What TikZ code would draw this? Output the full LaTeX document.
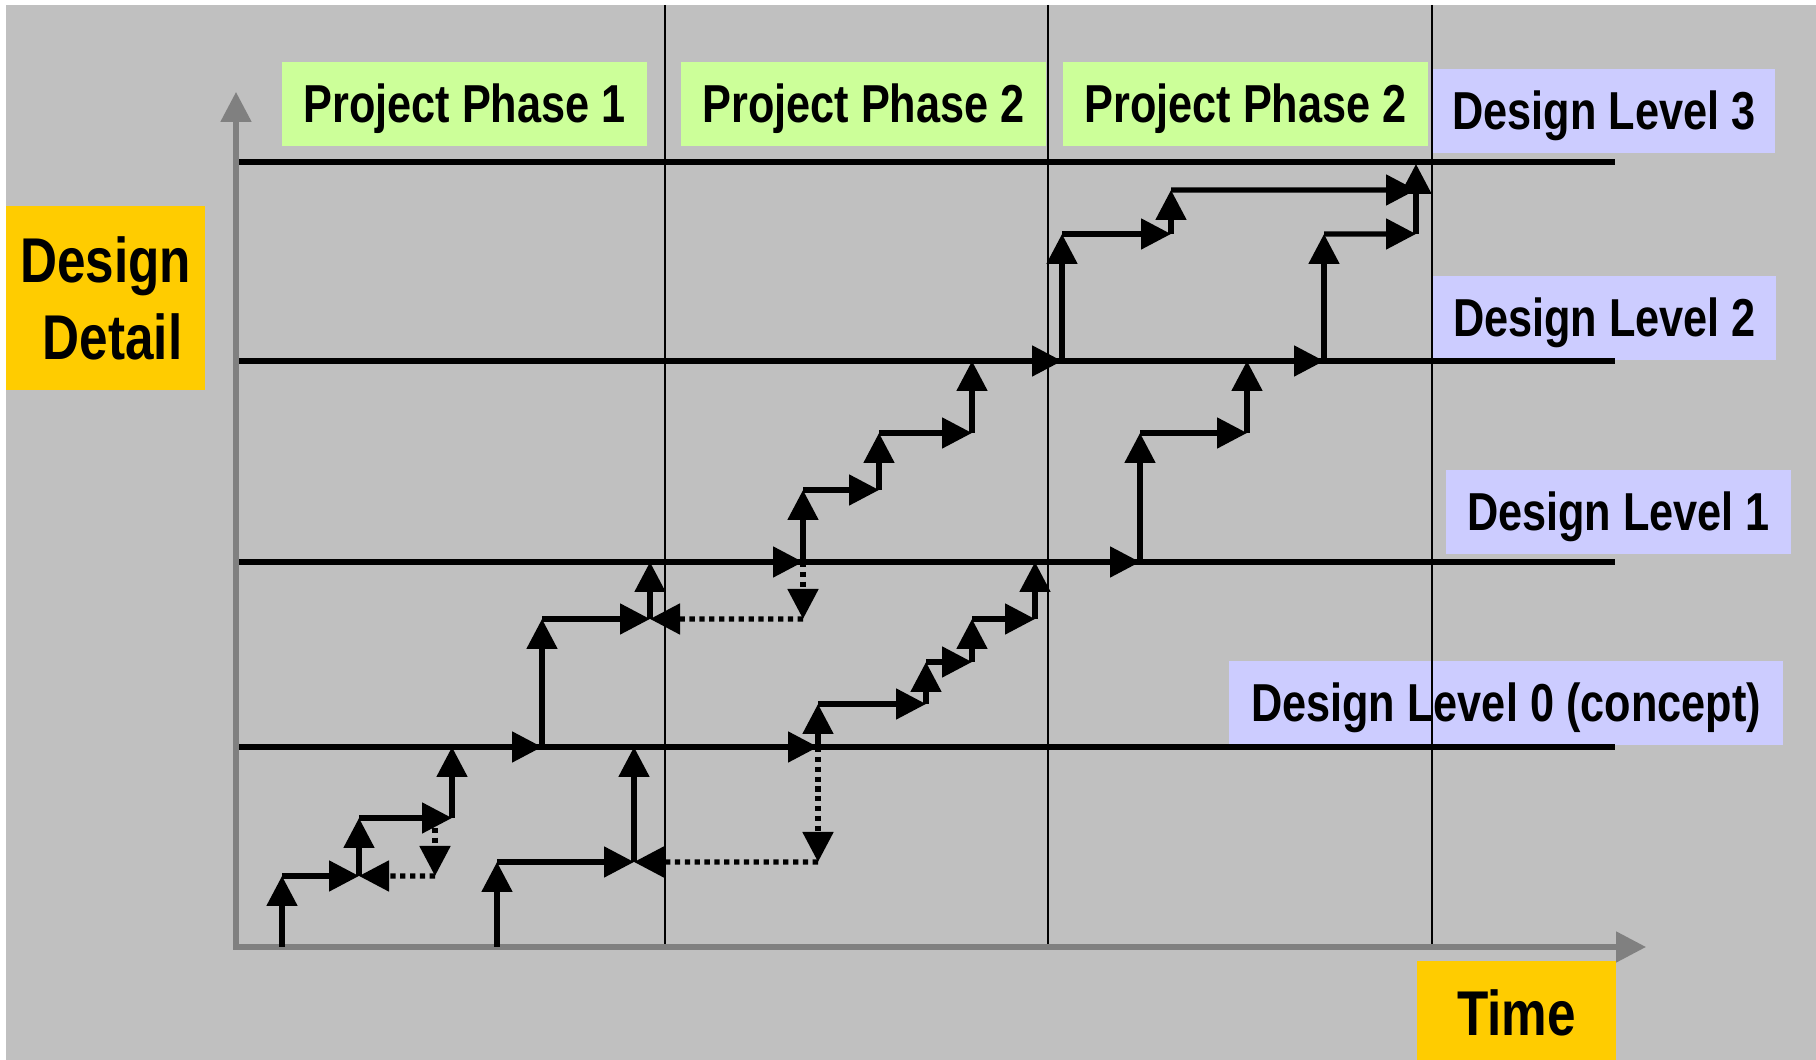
\documentclass[tikz,border=0pt]{standalone}
\usepackage{fontspec}
\setmainfont{Liberation Sans}[FakeStretch=0.81]
\usepackage{tikz}
\usetikzlibrary{arrows.meta,calc,positioning}
\definecolor{bggray}{HTML}{C0C0C0}
\definecolor{phasegreen}{HTML}{CCFF99}
\definecolor{levelblue}{HTML}{CCCCFF}
\definecolor{keyyellow}{HTML}{FFCC00}
\definecolor{axisgray}{HTML}{808080}

\begin{document}
\begin{tikzpicture}[
  progress/.style={line width=1.45pt,-{Triangle[length=3mm,width=3mm]}},
  feedback/.style={progress,dash pattern=on 1.5pt off 1.3pt},
  lvlline/.style={line width=1.45pt},
  phaseline/.style={line width=0.8pt},
  axisline/.style={draw=axisgray,line width=1.45pt,{Triangle[length=3mm,width=3mm]}-{Triangle[length=3mm,width=3mm]}},
  phasebox/.style={fill=phasegreen,minimum width=3.65cm,minimum height=0.84cm,inner sep=0pt,font=\bfseries\fontsize{15.2}{18}\selectfont,text height=0.38cm,text depth=0pt},
  lvlbox/.style={phasebox,fill=levelblue},
  keybox/.style={fill=keyyellow,minimum width=1.99cm,inner sep=0pt,font=\bfseries\fontsize{18}{21.9}\selectfont}
]
\useasboundingbox (0,0) rectangle (18.16,10.6);
\fill[bggray] (0.06,0) rectangle (18.16,10.55);
% labels
\node[phasebox] (ph1) at (4.645,9.56) {Project Phase 1};
\node[phasebox] (ph2) at (8.635,9.56) {Project Phase 2};
\node[phasebox] (ph3) at (12.455,9.56) {Project Phase 2};
\node[lvlbox,minimum width=3.42cm] (lv3) at (16.04,9.49) {Design Level 3};
\node[lvlbox,minimum width=3.43cm] (lv2) at (16.045,7.42) {Design Level 2};
\node[lvlbox,minimum width=3.45cm] (lv1) at (16.185,5.48) {Design Level 1};
\node[lvlbox,minimum width=5.54cm] (lv0) at (15.06,3.57) {Design Level 0 (concept)};
\node[keybox,minimum height=1.84cm,align=center] (detail) at (1.055,7.62) {Design\\\ Detail};
\node[keybox,minimum height=1.04cm,text height=0.455cm,text depth=0pt] (time) at (15.165,0.47) {Time};
% phase borders
\draw[phaseline] (6.65,10.55) -- (6.65,1.13);
\draw[phaseline] (10.48,10.55) -- (10.48,1.13);
\draw[phaseline] (14.32,10.55) -- (14.32,1.13);
% design levels
\draw[lvlline] (2.36,8.98) coordinate(L3) -- ++(13.79,0);
\draw[lvlline] (2.36,6.99) coordinate(L2) -- ++(13.79,0);
\draw[lvlline] (2.36,4.98) coordinate(L1) -- ++(13.79,0);
\draw[lvlline] (2.36,3.13) coordinate(L0) -- ++(13.79,0);
% axes
\draw[axisline] (2.36,9.68) -- (2.36,1.13) coordinate(O) -- (16.46,1.13);
% first run up to level 0
\draw[progress] (2.82,1.13) -- ++(0,0.71) coordinate(a1);
\draw[progress] (a1) -- ++(0.77,0) coordinate(a2);
\draw[progress] (a2) -- ++(0,0.58) coordinate(a3);
\draw[progress] (a3) -- ++(0.93,0) coordinate(a4);
\draw[progress] (a4) -- (a4|-L0) coordinate(a5);
\draw[feedback] (4.35,2.42) -- (4.35,1.84) coordinate(af);
\draw[feedback] (af) -- (a2);
% level 0 to level 1
\draw[progress] (a5) -- (5.42,3.13) coordinate(b0);
\draw[progress] (b0) -- ++(0,1.28) coordinate(b1);
\draw[progress] (b1) -- ++(1.08,0) coordinate(b2);
\draw[progress] (b2) -- (b2|-L1) coordinate(b3);
\draw[feedback] (8.03,4.98) -- (8.03,4.41) coordinate(bf);
\draw[feedback] (bf) -- (b2);
% second run up to level 0
\draw[progress] (4.97,1.13) -- ++(0,0.85) coordinate(c1);
\draw[progress] (c1) -- ++(1.37,0) coordinate(c2);
\draw[progress] (c2) -- (c2|-L0) coordinate(c3);
\draw[feedback] (8.18,3.13) -- (8.18,1.98) coordinate(cf);
\draw[feedback] (cf) -- (c2);
% second run level 0 to level 1
\draw[progress] (c3) -- (8.18,3.13) coordinate(d0);
\draw[progress] (d0) -- ++(0,0.43) coordinate(d1);
\draw[progress] (d1) -- ++(1.08,0) coordinate(d2);
\draw[progress] (d2) -- ++(0,0.42) coordinate(d3);
\draw[progress] (d3) -- ++(0.46,0) coordinate(d4);
\draw[progress] (d4) -- ++(0,0.43) coordinate(d5);
\draw[progress] (d5) -- ++(0.63,0) coordinate(d6);
\draw[progress] (d6) -- (d6|-L1) coordinate(d7);
% first run level 1 to level 3
\draw[progress] (b3) -- (8.03,4.98) coordinate(e0);
\draw[progress] (e0) -- ++(0,0.72) coordinate(e1);
\draw[progress] (e1) -- ++(0.76,0) coordinate(e2);
\draw[progress] (e2) -- ++(0,0.57) coordinate(e3);
\draw[progress] (e3) -- ++(0.93,0) coordinate(e4);
\draw[progress] (e4) -- (e4|-L2) coordinate(e5);
\draw[progress] (e5) -- (10.62,6.99) coordinate(e6);
\draw[progress] (e6) -- ++(0,1.27) coordinate(e7);
\draw[progress] (e7) -- ++(1.09,0) coordinate(e8);
\draw[progress] (e8) -- ++(0,0.44) coordinate(e9);
\draw[progress] (e9) -- (14.16,8.70);
% second run level 1 to level 3
\draw[progress] (d7) -- (11.40,4.98) coordinate(f0);
\draw[progress] (f0) -- ++(0,1.29) coordinate(f1);
\draw[progress] (f1) -- ++(1.07,0) coordinate(f2);
\draw[progress] (f2) -- (f2|-L2) coordinate(f3);
\draw[progress] (f3) -- (13.24,6.99) coordinate(f4);
\draw[progress] (f4) -- ++(0,1.27) coordinate(f5);
\draw[progress] (f5) -- (14.16,8.26) coordinate(f6);
\draw[progress] (f6) -- (14.16,8.96);
\end{tikzpicture}
\end{document}
